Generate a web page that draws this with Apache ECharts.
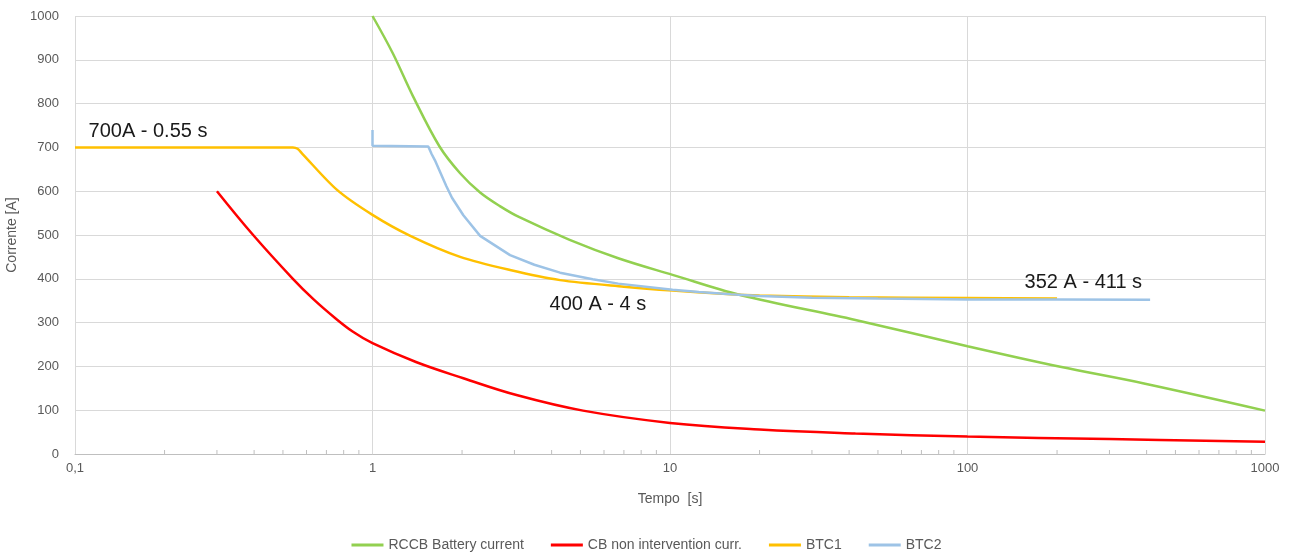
<!DOCTYPE html>
<html>
<head>
<meta charset="utf-8">
<script src="https://cdn.jsdelivr.net/npm/echarts@6/dist/echarts.min.js"></script>
<style>
  html, body { margin: 0; padding: 0; background: #fff; }
  #chart { width: 1293px; height: 556px; }
</style>
</head>
<body>
<div id="chart"></div>
<script>
// time [s], current [A]
var rccb = [[1, 1000], [1.17, 915], [1.37, 816], [1.68, 702], [1.97, 641], [2.3, 597], [2.68, 566],
  [3.13, 540], [4.6, 489], [6.7, 447], [10.2, 409], [17.2, 363], [42, 306], [100, 246], [205, 199],
  [392, 161], [1000, 99]];
var cbNonInt = [[0.3, 600], [0.397, 500], [0.54, 400], [0.634, 353], [0.75, 310], [0.86, 279], [1, 253],
  [1.4, 210], [2.02, 173], [3.07, 134], [5.1, 99], [10, 71], [20, 56], [42, 47], [100, 40], [300, 34],
  [1000, 28]];
var btc1 = [[0.1, 700], [0.3, 700], [0.54, 700], [0.56, 697], [0.58, 686], [0.76, 603], [1, 546],
  [1.34, 498], [1.97, 450], [2.9, 420], [4.27, 397], [7, 382], [10.2, 373], [15, 366], [20, 362],
  [40, 358], [100, 356], [200, 355]];
var btc2 = [[1, 740], [1, 704], [1.54, 702], [1.58, 685], [1.62, 671], [1.77, 612], [1.85, 585],
  [2.02, 545], [2.3, 498], [2.9, 454], [3.5, 432], [4.27, 414], [5.5, 399], [6.7, 389], [10.2, 375],
  [12.5, 370], [16, 365], [20, 361], [30, 357], [50, 355], [100, 353], [200, 352.5], [411, 352]];

var seriesNames = ['RCCB Battery current', 'CB non intervention curr.', 'BTC1', 'BTC2'];
var notes = [
  { name: '700A - 0.55 s', coord: [0.1106, 737] },
  { name: '400 A - 4 s', coord: [3.92, 342] },
  { name: '352 A - 411 s', coord: [155, 391] }
];
var minorTicks = [0.2, 0.3, 0.4, 0.5, 0.6, 0.7, 0.8, 0.9, 2, 3, 4, 5, 6, 7, 8, 9,
  20, 30, 40, 50, 60, 70, 80, 90, 200, 300, 400, 500, 600, 700, 800, 900];

var chart = echarts.init(document.getElementById('chart'));
var font = 'Liberation Sans, Arial, sans-serif';

chart.setOption({
  animation: false,
  backgroundColor: '#fff',
  textStyle: { fontFamily: font },
  grid: { left: 75, right: 28, top: 16, bottom: 102, outerBoundsMode: 'none' },
  legend: {
    data: seriesNames,
    top: 533,
    left: 'center',
    icon: 'rect',
    itemWidth: 32,
    itemHeight: 3,
    itemGap: 27,
    textStyle: { color: '#595959', fontSize: 14 }
  },
  xAxis: {
    type: 'log',
    logBase: 10,
    min: 0.1,
    max: 1000,
    name: 'Tempo  [s]',
    nameLocation: 'middle',
    nameGap: 38,
    nameTextStyle: { color: '#595959', fontSize: 14 },
    axisLine: { lineStyle: { color: '#bfbfbf', width: 1 } },
    axisTick: { show: false },
    axisLabel: {
      color: '#595959', fontSize: 13, margin: 8,
      formatter: function (v) { return String(+v.toPrecision(6)).replace('.', ','); }
    },
    splitLine: { show: true, lineStyle: { color: '#d9d9d9', width: 1 } }
  },
  yAxis: {
    type: 'value',
    min: 0,
    max: 1000,
    interval: 100,
    name: 'Corrente [A]',
    nameLocation: 'middle',
    nameGap: 56,
    nameTextStyle: { color: '#595959', fontSize: 14 },
    axisLine: { show: false },
    axisTick: { show: false },
    axisLabel: { color: '#595959', fontSize: 13, margin: 16, formatter: function (v) { return String(v); } },
    splitLine: { lineStyle: { color: '#d9d9d9', width: 1 } }
  },
  series: [
    {
      name: seriesNames[0], type: 'line', data: rccb, smooth: 0.35, showSymbol: false,
      lineStyle: { color: '#92d050', width: 2.5 }, itemStyle: { color: '#92d050' }
    },
    {
      name: seriesNames[1], type: 'line', data: cbNonInt, smooth: 0.4, showSymbol: false,
      lineStyle: { color: '#ff0000', width: 2.5 }, itemStyle: { color: '#ff0000' }
    },
    {
      name: seriesNames[2], type: 'line', data: btc1, smooth: 0.3, showSymbol: false,
      lineStyle: { color: '#ffc000', width: 2.5 }, itemStyle: { color: '#ffc000' },
      markPoint: {
        symbol: 'circle', symbolSize: 1,
        itemStyle: { color: 'rgba(0,0,0,0)' },
        label: {
          show: true, position: 'right', distance: 0, formatter: '{b}',
          color: '#1a1a1a', fontSize: 20, fontFamily: font
        },
        data: notes
      }
    },
    {
      name: seriesNames[3], type: 'line', data: btc2, smooth: false, showSymbol: false,
      lineStyle: { color: '#9dc3e6', width: 2.5 }, itemStyle: { color: '#9dc3e6' }
    },
    {
      name: 'minor', type: 'custom', silent: true, z: 1,
      data: minorTicks.map(function (v) { return [v, 0]; }),
      renderItem: function (params, api) {
        var p = api.coord([api.value(0), 0]);
        return {
          type: 'line',
          shape: { x1: p[0], y1: p[1], x2: p[0], y2: p[1] - 4 },
          style: { stroke: '#bfbfbf', lineWidth: 1 }
        };
      }
    }
  ]
});
</script>
</body>
</html>
